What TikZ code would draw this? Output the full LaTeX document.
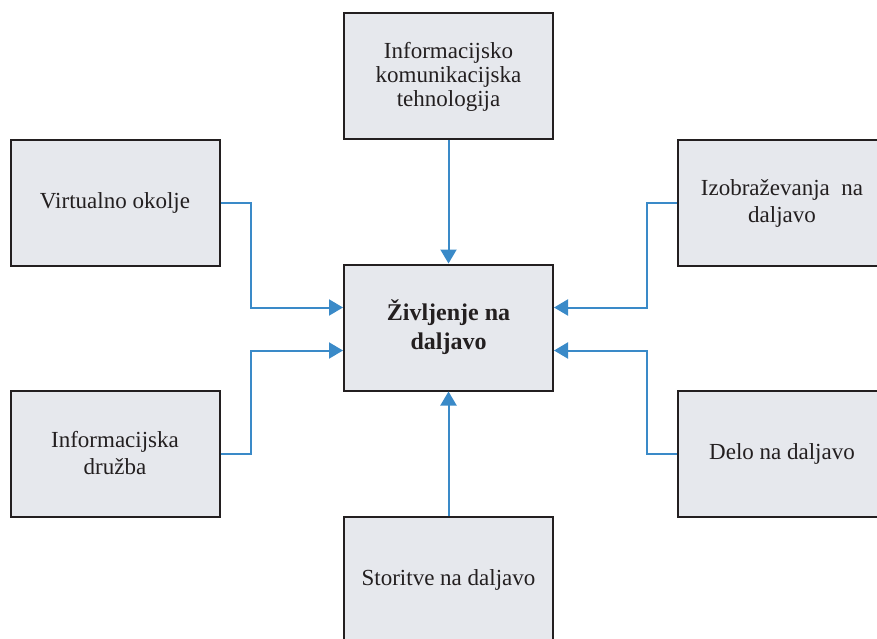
\documentclass[tikz,border=0pt]{standalone}
\usepackage{fontspec}
\setmainfont{Liberation Serif}
\usetikzlibrary{arrows.meta}
\definecolor{boxfill}{HTML}{E6E8ED}
\definecolor{boxline}{HTML}{231F20}
\definecolor{linkblue}{HTML}{3A8AC8}
\tikzset{
  topic/.style={draw=boxline, line width=2pt, fill=boxfill, minimum width=209pt,
    minimum height=126pt, inner sep=0pt, align=center, text=boxline,
    font=\fontsize{23}{27}\selectfont},
  link/.style={draw=linkblue, line width=2pt, -{Triangle[length=14pt,width=16pt]}}
}

\begin{document}
\begin{tikzpicture}[x=1pt,y=-1pt]
		%%%%% FRAME %%%%%
		\useasboundingbox (0,0) rectangle (877,639);
		\clip (0,0) rectangle (877,639);
		
		%%%%% BOXES %%%%%
		\node[topic, font=\fontsize{23}{24}\selectfont] (ikt) at (448.5,76.5) {Informacijsko\\komunikacijska\\tehnologija};
		\node[topic, font=\fontsize{24}{29}\selectfont\bfseries] (life) at (448.5,327.5) {Življenje na\\daljavo};
		\node[topic] (virt) at (115,203) {Virtualno okolje};
		\node[topic] (soc) at (115,453.5) {Informacijska\\družba};
		\node[topic] (edu) at (782,203) {Izobraževanja\ \ na\\daljavo};
		\node[topic] (work) at (782,453.5) {Delo na daljavo};
		\node[topic] (serv) at (448.5,580) {Storitve na daljavo};
		
		%%%%% LINKS %%%%%
		\draw[link] (ikt) -- (life);
		\draw[link] (serv) -- (life);
		\draw[link] (virt.east) -- ++(30,0) |- ([yshift=20pt]life.west);
		\draw[link] (soc.east) -- ++(30,0) |- ([yshift=-23pt]life.west);
		\draw[link] (edu.west) -- ++(-30,0) |- ([yshift=20pt]life.east);
		\draw[link] (work.west) -- ++(-30,0) |- ([yshift=-23pt]life.east);
\end{tikzpicture}
\end{document}
